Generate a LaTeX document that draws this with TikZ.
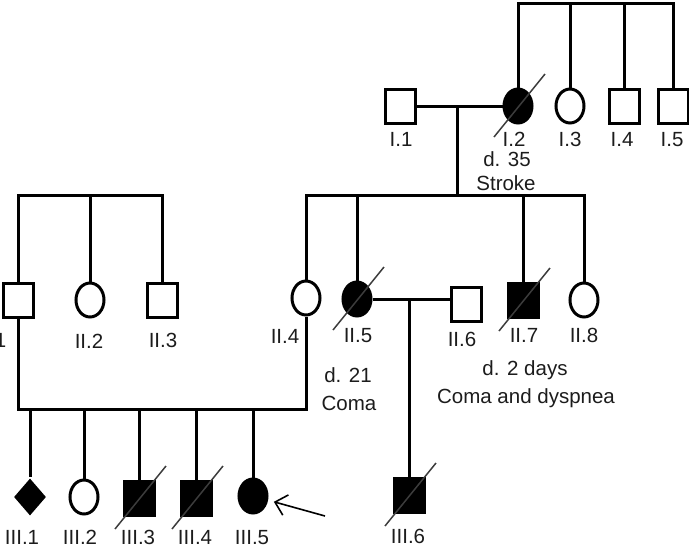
\documentclass[tikz,border=0pt]{standalone}
\usepackage{fontspec}
\setmainfont{Liberation Sans}
\usepackage{tikz}
\usetikzlibrary{arrows.meta,shapes.geometric}
\usepackage{xcolor}
\definecolor{slashgray}{HTML}{3c3c3c}
\definecolor{labelgray}{HTML}{1c1c1c}

\begin{document}
\begin{tikzpicture}[x=1pt, y=-1pt, line width=3pt,
  male/.style={draw, rectangle, minimum width=30pt, minimum height=34pt, inner sep=0pt},
  female/.style={draw, ellipse, minimum width=28pt, minimum height=34pt, inner sep=0pt},
  unknown/.style={diamond, fill=black, minimum width=33pt, minimum height=38pt, inner sep=0pt},
  affected/.style={fill=black},
  lbl/.style={font=\fontsize{20.5}{24}\selectfont, text=labelgray, inner sep=0pt, anchor=base},
  slash/.style={line width=1.5pt, slashgray}]
  \useasboundingbox (0,0) rectangle (689,547);
  % generation I
  \node[male] (I1) at (400,106) {};
  \node[female, affected] (I2) at (518,106) {};
  \node[female] (I3) at (570,106) {};
  \node[male] (I4) at (624,106) {};
  \node[male] (I5) at (673,106) {};
  \coordinate (s1) at (600,3);
  \draw (I2.north) -- (I2 |- s1) -- (I5 |- s1) -- (I5.north);
  \foreach \n in {I3,I4} \draw (\n) -- (\n |- s1);
  \draw (I1) -- (I2);
  \coordinate (m1) at (457,106);
  % generation II
  \node[male] (II1) at (18,300) {};
  \node[female] (II2) at (90,300) {};
  \node[male] (II3) at (162,300) {};
  \node[female] (II4) at (306,298) {};
  \node[female, affected] (II5) at (357,299) {};
  \node[male] (II6) at (466,304) {};
  \node[male, affected] (II7) at (523,300) {};
  \node[female] (II8) at (584,300) {};
  \coordinate (s0) at (90,195);
  \coordinate (s2) at (457,195);
  \draw (m1) -- (s2);
  \draw (II1.north) -- (II1 |- s0) -- (II3 |- s0) -- (II3.north);
  \draw (II2) -- (II2 |- s0);
  \draw (II4.north) -- (II4 |- s2) -- (II8 |- s2) -- (II8.north);
  \foreach \n in {II5,II7} \draw (\n) -- (\n |- s2);
  \draw (II5) -- (II5 -| II6.west);
  \coordinate (m2) at (409,299);
  % generation III
  \node[unknown] (III1) at (30,497) {};
  \node[female] (III2) at (84,497) {};
  \node[male, affected] (III3) at (139,498) {};
  \node[male, affected] (III4) at (196,498) {};
  \node[female, affected] (III5) at (253,496) {};
  \node[male, affected] (III6) at (409,495) {};
  \coordinate (s3) at (150,409);
  \draw (II1.south) -- (II1 |- s3) -- (II4 |- s3) -- (II4.south);
  \foreach \n in {III1,III2,III3,III4,III5} \draw (\n) -- (\n |- s3);
  \draw (m2) -- (III6);
  % deceased
  \foreach \p in {I2,II5,II7,III3,III4,III6}
    \draw[slash] ([shift={(-24,31)}]\p.center) -- ([shift={(27,-32)}]\p.center);
  % proband
  \coordinate (arr) at (325,516);
  \draw[line width=1.6pt, -{Straight Barb[length=11pt,width=21pt]}, shorten >=6pt] (arr) -- (III5);
  % labels
  \node[lbl] (lI1) at (401,146) {I.1};
  \node[lbl] (lI2) at (514,146) {I.2};
  \node[lbl] (lI3) at (570,146) {I.3};
  \node[lbl] (lI4) at (622,146) {I.4};
  \node[lbl] (lI5) at (672,146) {I.5};
  \node[lbl] (dI2) at (507,166) {d. 35};
  \node[lbl] (cI2) at (506,190) {Stroke};
  \node[lbl] (lII1) at (-8,347) {II.1};
  \node[lbl] (lII2) at (89,348) {II.2};
  \node[lbl] (lII3) at (163,347) {II.3};
  \node[lbl] (lII4) at (285,343) {II.4};
  \node[lbl] (lII5) at (358,342) {II.5};
  \node[lbl] (lII6) at (462,346) {II.6};
  \node[lbl] (lII7) at (524,342) {II.7};
  \node[lbl] (lII8) at (584,342) {II.8};
  \node[lbl] (dII5) at (348,382) {d. 21};
  \node[lbl] (cII5) at (349,410) {Coma};
  \node[lbl] (dII7) at (525,375) {d. 2 days};
  \node[lbl] (cII7) at (526,403) {Coma and dyspnea};
  \node[lbl] (lIII1) at (22,544) {III.1};
  \node[lbl] (lIII2) at (80,544) {III.2};
  \node[lbl] (lIII3) at (138,544) {III.3};
  \node[lbl] (lIII4) at (195,544) {III.4};
  \node[lbl] (lIII5) at (252,544) {III.5};
  \node[lbl] (lIII6) at (408,543) {III.6};
\end{tikzpicture}
\end{document}
